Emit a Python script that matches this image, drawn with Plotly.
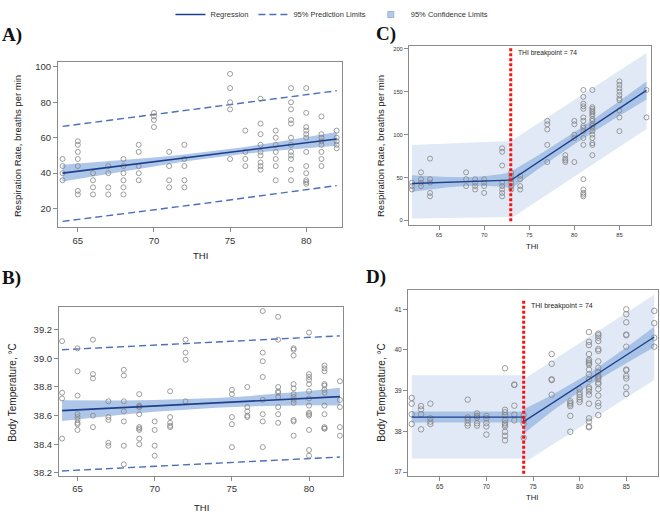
import plotly.graph_objects as go

W, H = 660, 515

# ---------------- Panel A: respiration rate (linear) ----------------
a_thi = [64, 65, 66, 67, 68, 69, 70, 71, 72, 75, 76, 77, 78, 79, 80, 81, 82]
a_rr = [
    [48, 44, 40, 36],
    [58, 56, 52, 48, 44, 30, 28],
    [40, 36, 32, 28],
    [44, 40, 32, 28],
    [48, 44, 40, 36, 32, 28],
    [56, 52, 44, 40, 36],
    [74, 72, 70, 66],
    [52, 44, 36, 32],
    [56, 48, 44, 36, 32],
    [96, 88, 80, 76, 48],
    [64, 52, 48, 44],
    [82, 68, 62, 56, 52, 50, 46, 44, 42],
    [64, 60, 56, 52, 48, 44, 36],
    [88, 80, 76, 70, 68, 60, 56, 52, 50, 48, 42, 36],
    [88, 74, 66, 64, 62, 60, 52, 44, 40, 36, 35, 34],
    [72, 62, 60, 58, 56, 52, 48, 44],
    [64, 60, 58, 56, 54],
]
a_fit_x = [64, 82]
a_fit_y = [40.0, 59.3]
a_ci_x = [64, 66, 68, 70, 72, 74, 76, 78, 80, 82]
a_ci_lo = [35.3, 38.2, 41.2, 43.9, 46.6, 48.9, 51.0, 52.6, 54.1, 55.4]
a_ci_hi = [44.7, 46.0, 47.4, 48.9, 50.6, 52.5, 54.8, 57.4, 60.3, 63.2]
a_pi_x = [64, 73, 82]
a_pi_lo = [12.8, 22.6, 33.0]
a_pi_hi = [66.4, 76.3, 86.5]

# ---------------- Panel B: body temperature (linear) ----------------
b_thi = [64, 65, 66, 67, 68, 69, 70, 71, 72, 75, 76, 77, 78, 79, 80, 81, 82]
b_bt = [
    [39.12, 38.76, 38.72, 38.44],
    [39.07, 38.91, 38.74, 38.61, 38.59, 38.57, 38.55, 38.54, 38.50],
    [39.13, 38.89, 38.86, 38.60, 38.52],
    [38.70, 38.59, 38.57, 38.41, 38.39],
    [38.92, 38.88, 38.70, 38.63, 38.56, 38.39, 38.26],
    [38.75, 38.67, 38.66, 38.66, 38.61, 38.52, 38.51, 38.50, 38.44, 38.40],
    [38.56, 38.50, 38.39, 38.32],
    [38.77, 38.59, 38.55, 38.53, 38.52],
    [39.13, 39.04, 38.99, 38.70],
    [38.78, 38.75, 38.59, 38.54, 38.38],
    [38.80, 38.66, 38.63, 38.60, 38.59],
    [39.33, 39.04, 38.98, 38.87, 38.71, 38.61, 38.56, 38.38],
    [39.29, 39.13, 38.80, 38.77, 38.76, 38.73, 38.66, 38.61, 38.55],
    [39.07, 39.06, 39.02, 38.82, 38.79, 38.75, 38.73, 38.71, 38.69, 38.57, 38.56, 38.46],
    [39.18, 38.89, 38.87, 38.85, 38.82, 38.77, 38.72, 38.67, 38.62, 38.61, 38.60, 38.50, 38.36, 38.32],
    [38.95, 38.93, 38.91, 38.82, 38.81, 38.78, 38.76, 38.67, 38.61, 38.52, 38.51, 38.51],
    [38.84, 38.71, 38.66, 38.52, 38.46],
]
b_fit_x = [64, 82]
b_fit_y = [38.635, 38.733]
b_ci_x = [64, 66, 68, 70, 72, 74, 76, 78, 80, 82]
b_ci_lo = [38.562, 38.586, 38.608, 38.627, 38.643, 38.655, 38.664, 38.670, 38.672, 38.671]
b_ci_hi = [38.708, 38.706, 38.706, 38.709, 38.715, 38.723, 38.736, 38.752, 38.772, 38.795]
b_pi_x = [64, 73, 82]
b_pi_lo = [38.214, 38.262, 38.311]
b_pi_hi = [39.060, 39.110, 39.157]

# ---------------- Panel C: respiration rate (broken-line) ----------------
c_thi = [62, 63, 64, 68, 69, 70, 72, 73, 74, 77, 79, 80, 81, 82, 85, 88]
c_rr = [
    [44, 40, 36],
    [56, 48, 44, 40],
    [72, 48, 44, 32, 28],
    [56, 48, 40],
    [48, 44, 40, 36],
    [48, 44, 40, 32],
    [84, 80, 64, 44, 40, 36, 32, 28],
    [56, 52, 48, 44, 40, 36],
    [52, 48, 40, 36],
    [116, 112, 106, 88, 68],
    [76, 72, 70, 68],
    [116, 112, 100, 96, 68],
    [152, 144, 136, 133, 130, 120, 116, 110, 108, 104, 96, 88, 48, 36, 32, 30, 28],
    [152, 132, 130, 128, 126, 124, 122, 118, 116, 112, 110, 108, 104, 100, 96, 90, 88, 76],
    [162, 158, 154, 150, 146, 142, 140, 128, 120, 104],
    [152, 120],
]
c_breakpoint = 72.95
c_fit_x = [62, 73, 88]
c_fit_y = [43.0, 47.0, 151.5]
c_pl_left_x = [62, 65, 68, 70, 73]
c_pl_left_lo = [2.3, 2.8, 3.3, 3.6, 4.0]
c_pl_left_hi = [87.8, 89.0, 90.3, 91.2, 92.5]
c_pl_right_x = [73, 88]
c_pl_right_lo = [2.5, 106.5]
c_pl_right_hi = [92.5, 195.0]
c_cl_left_x = [62, 64, 66, 68, 70, 72, 73]
c_cl_left_lo = [33.5, 36.2, 38.5, 40.0, 40.4, 39.1, 37.5]
c_cl_left_hi = [52.5, 51.2, 50.5, 50.4, 51.4, 54.1, 56.5]
c_cl_right_x = [73, 76, 80, 84, 88]
c_cl_right_lo = [37.0, 59.9, 88.8, 115.6, 141.0]
c_cl_right_hi = [57.0, 75.9, 102.8, 131.6, 162.0]

# ---------------- Panel D: body temperature (broken-line) ----------------
d_thi = [62, 63, 64, 68, 69, 70, 72, 73, 74, 77, 79, 80, 81, 82, 85, 88]
d_bt = [
    [38.82, 38.68, 38.42, 38.18],
    [38.62, 38.54, 38.42, 38.05],
    [38.68, 38.32, 38.24, 38.18],
    [38.78, 38.34, 38.28, 38.20, 38.14],
    [38.44, 38.38, 38.34, 38.20, 38.14],
    [38.38, 38.32, 38.20, 38.12, 37.92],
    [39.55, 38.53, 38.47, 38.40, 38.27, 38.20, 38.16, 38.12, 37.99, 37.89, 37.78],
    [39.15, 39.14, 38.63, 38.41, 38.27],
    [38.40, 38.27, 38.19, 37.84],
    [39.90, 39.66, 39.28, 39.26, 38.90],
    [38.74, 38.70, 38.66, 38.62, 38.38, 37.99],
    [39.04, 38.96, 38.90, 38.84, 38.78, 38.72],
    [40.44, 40.20, 40.12, 39.90, 39.76, 39.72, 39.68, 39.64, 39.52, 39.40, 39.28,
     39.08, 39.04, 38.98, 38.90, 38.68, 38.32, 38.24, 38.12, 38.10],
    [40.40, 40.36, 40.30, 40.22, 40.02, 39.98, 39.72, 39.56, 39.46, 39.36, 39.32,
     39.28, 39.20, 39.16, 39.04, 38.88, 38.70, 38.62, 38.40],
    [41.00, 40.88, 40.68, 40.38, 40.36, 40.08, 39.52, 39.50, 39.36, 39.30, 39.08, 38.92],
    [40.96, 40.66, 40.30, 40.08],
]
d_breakpoint = 74
d_fit_x = [62, 74, 74, 88]
d_fit_y = [38.35, 38.35, 38.24, 40.32]
d_pl_left_x = [62, 74]
d_pl_left_lo = [37.33, 37.33]
d_pl_left_hi = [39.38, 39.38]
d_pl_right_x = [74, 88]
d_pl_right_lo = [37.22, 39.26]
d_pl_right_hi = [39.28, 41.36]
d_cl_left_x = [62, 74]
d_cl_left_lo = [38.22, 38.22]
d_cl_left_hi = [38.49, 38.49]
d_cl_right_x = [74, 77, 81, 85, 88]
d_cl_right_lo = [37.94, 38.49, 39.14, 39.68, 40.07]
d_cl_right_hi = [38.54, 38.89, 39.42, 40.06, 40.57]

legend_labels = ["Regression", "95% Prediction Limits", "95% Confidence Limits"]

# ---------------- styles ----------------
FIT_COLOR = "#1d3f8e"
PI_COLOR = "#4c6fb6"
CI_FILL = "rgba(120,160,215,0.60)"
PL_FILL = "#e0e9f5"
CL_FILL = "#a9c3e6"
PT_COLOR = "#858585"
AX_COLOR = "#8a8a8a"
FONT = "Liberation Sans, Arial, sans-serif"


def expand(xs, groups):
    px = [x for x, g in zip(xs, groups) for _ in g]
    py = [v for g in groups for v in g]
    return px, py


fig = go.Figure()


def band(x, lo, hi, color, xa, ya):
    fig.add_trace(go.Scatter(x=x, y=lo, mode="lines", line=dict(width=0),
                             hoverinfo="skip", showlegend=False, xaxis=xa, yaxis=ya))
    fig.add_trace(go.Scatter(x=x, y=hi, mode="lines", line=dict(width=0),
                             fill="tonexty", fillcolor=color, hoverinfo="skip",
                             showlegend=False, xaxis=xa, yaxis=ya))


def points(xs, groups, xa, ya, size):
    px, py = expand(xs, groups)
    fig.add_trace(go.Scatter(x=px, y=py, mode="markers",
                             marker=dict(symbol="circle-open", size=size, color=PT_COLOR,
                                         line=dict(width=0.8, color=PT_COLOR)),
                             showlegend=False, xaxis=xa, yaxis=ya))


# Panel A
band(a_ci_x, a_ci_lo, a_ci_hi, CI_FILL, "x", "y")
fig.add_trace(go.Scatter(x=a_pi_x, y=a_pi_hi, mode="lines",
                         line=dict(color=PI_COLOR, width=1.4, dash="7px,4px"),
                         name=legend_labels[1], showlegend=True, legendrank=2,
                         xaxis="x", yaxis="y"))
fig.add_trace(go.Scatter(x=a_pi_x, y=a_pi_lo, mode="lines",
                         line=dict(color=PI_COLOR, width=1.4, dash="7px,4px"),
                         showlegend=False, xaxis="x", yaxis="y"))
points(a_thi, a_rr, "x", "y", 5)
fig.add_trace(go.Scatter(x=a_fit_x, y=a_fit_y, mode="lines",
                         line=dict(color=FIT_COLOR, width=1.6),
                         name=legend_labels[0], showlegend=True, legendrank=1,
                         xaxis="x", yaxis="y"))
fig.add_trace(go.Scatter(x=[None], y=[None], mode="markers",
                         marker=dict(symbol="square", size=6, color="#b3c9e8",
                                     line=dict(width=0.8, color="#8ea9cf")),
                         name=legend_labels[2], showlegend=True, legendrank=3,
                         xaxis="x", yaxis="y"))

# Panel B
band(b_ci_x, b_ci_lo, b_ci_hi, CI_FILL, "x2", "y2")
for yy in (b_pi_hi, b_pi_lo):
    fig.add_trace(go.Scatter(x=b_pi_x, y=yy, mode="lines",
                             line=dict(color=PI_COLOR, width=1.4, dash="7px,4px"),
                             showlegend=False, xaxis="x2", yaxis="y2"))
points(b_thi, b_bt, "x2", "y2", 5)
fig.add_trace(go.Scatter(x=b_fit_x, y=b_fit_y, mode="lines",
                         line=dict(color=FIT_COLOR, width=1.6),
                         showlegend=False, xaxis="x2", yaxis="y2"))

# Panel C
band(c_pl_left_x, c_pl_left_lo, c_pl_left_hi, PL_FILL, "x3", "y3")
band(c_pl_right_x, c_pl_right_lo, c_pl_right_hi, PL_FILL, "x3", "y3")
band(c_cl_left_x, c_cl_left_lo, c_cl_left_hi, CL_FILL, "x3", "y3")
band(c_cl_right_x, c_cl_right_lo, c_cl_right_hi, CL_FILL, "x3", "y3")
points(c_thi, c_rr, "x3", "y3", 5)
fig.add_trace(go.Scatter(x=c_fit_x, y=c_fit_y, mode="lines",
                         line=dict(color=FIT_COLOR, width=1.3),
                         showlegend=False, xaxis="x3", yaxis="y3"))

# Panel D
band(d_pl_left_x, d_pl_left_lo, d_pl_left_hi, PL_FILL, "x4", "y4")
band(d_pl_right_x, d_pl_right_lo, d_pl_right_hi, PL_FILL, "x4", "y4")
band(d_cl_left_x, d_cl_left_lo, d_cl_left_hi, CL_FILL, "x4", "y4")
band(d_cl_right_x, d_cl_right_lo, d_cl_right_hi, CL_FILL, "x4", "y4")
points(d_thi, d_bt, "x4", "y4", 5.5)
fig.add_trace(go.Scatter(x=d_fit_x, y=d_fit_y, mode="lines",
                         line=dict(color=FIT_COLOR, width=1.3),
                         showlegend=False, xaxis="x4", yaxis="y4"))

# breakpoint lines
fig.add_shape(type="line", xref="x3", yref="y3", x0=c_breakpoint, x1=c_breakpoint,
              y0=-1, y1=201, line=dict(color="#ff1010", width=3, dash="3px,2px"))
fig.add_shape(type="line", xref="x4", yref="y4", x0=d_breakpoint, x1=d_breakpoint,
              y0=36.96, y1=41.23, line=dict(color="#ff1010", width=3, dash="3px,2px"))


def px2paper(x, y):
    return x / W, 1 - y / H


def axis(domain, rng, tickvals, ticktext, fs, anchor):
    return dict(domain=domain, range=rng, tickvals=tickvals, ticktext=ticktext,
                showline=True, mirror=True, linecolor=AX_COLOR, linewidth=1,
                ticks="outside", ticklen=4, tickcolor=AX_COLOR, tickwidth=1,
                showgrid=False, zeroline=False, anchor=anchor,
                tickfont=dict(family=FONT, size=fs, color="#333333"))


fig.update_layout(
    width=W, height=H, autosize=False,
    margin=dict(l=0, r=0, t=0, b=0),
    paper_bgcolor="white", plot_bgcolor="white",
    xaxis=axis([58 / W, 342 / W], [63.7, 82.35], [65, 70, 75, 80], ["65", "70", "75", "80"], 9.5, "y"),
    yaxis=axis([1 - 223 / H, 1 - 54 / H], [9.5, 102.8], [20, 40, 60, 80, 100],
               ["20", "40", "60", "80", "100"], 9.5, "x"),
    xaxis2=axis([59 / W, 343 / W], [63.8, 82.2], [65, 70, 75, 80], ["65", "70", "75", "80"], 9.5, "y2"),
    yaxis2=axis([1 - 477 / H, 1 - 305 / H], [38.18, 39.355], [38.2, 38.4, 38.6, 38.8, 39.0, 39.2],
                ["38.2", "38.4", "38.6", "38.8", "39.0", "39.2"], 9.5, "x2"),
    xaxis3=axis([409 / W, 651 / W], [61.67, 88.5], [65, 70, 75, 80, 85],
                ["65", "70", "75", "80", "85"], 5.8, "y3"),
    yaxis3=axis([1 - 221 / H, 1 - 38.3 / H], [-5.7, 202.7], [0, 50, 100, 150, 200],
                ["0", "50", "100", "150", "200"], 5.8, "x3"),
    xaxis4=axis([408 / W, 658 / W], [61.6, 88.4], [65, 70, 75, 80, 85],
                ["65", "70", "75", "80", "85"], 6.5, "y4"),
    yaxis4=axis([1 - 477.3 / H, 1 - 287.3 / H], [36.9, 41.47], [37, 38, 39, 40, 41],
                ["37", "38", "39", "40", "41"], 6.5, "x4"),
    legend=dict(orientation="h", x=0.503, xanchor="center", y=1 - 5.5 / H, yanchor="middle",
                font=dict(family=FONT, size=7.5, color="#333333"), traceorder="normal",
                itemwidth=30, bgcolor="rgba(0,0,0,0)", tracegroupgap=0),
    showlegend=True,
)

ann = []


def label(text, x, y, size, bold=False, serif=False, angle=0, xanchor="center"):
    xp, yp = px2paper(x, y)
    ann.append(dict(text=("<b>%s</b>" % text) if bold else text, x=xp, y=yp,
                    xref="paper", yref="paper", showarrow=False, textangle=angle,
                    xanchor=xanchor, yanchor="middle",
                    font=dict(family=("Liberation Serif, Times New Roman, serif" if serif else FONT),
                              size=size, color="#111111" if serif else "#222222")))


label("A)", 0, 27, 19, bold=True, serif=True, xanchor="left")
label("B)", 0, 275, 19, bold=True, serif=True, xanchor="left")
label("C)", 374, 26, 19, bold=True, serif=True, xanchor="left")
label("D)", 364, 274, 19, bold=True, serif=True, xanchor="left")

label("Respiration Rate, breaths per min", 17, 140, 9.5, angle=-90)
label("Body Temperature, °C", 13, 392, 10, angle=-90)
label("Respiration Rate, breaths per min", 380, 140, 9.5, angle=-90)
label("Body Temperature, °C", 382, 392, 10, angle=-90)

label("THI", 200, 252, 9.5)
label("THI", 201, 509, 9.5)
label("THI", 532, 243, 7.7)
label("THI", 532, 499, 7.7)

ann.append(dict(text="THI breakpoint = 74", x=c_breakpoint + 0.6, y=195, xref="x3", yref="y3",
                showarrow=False, xanchor="left", yanchor="middle",
                font=dict(family=FONT, size=6.7, color="#222222")))
ann.append(dict(text="THI breakpoint = 74", x=d_breakpoint + 0.6, y=41.09, xref="x4", yref="y4",
                showarrow=False, xanchor="left", yanchor="middle",
                font=dict(family=FONT, size=7, color="#222222")))

fig.update_layout(annotations=ann)
fig.write_html("out.html")
